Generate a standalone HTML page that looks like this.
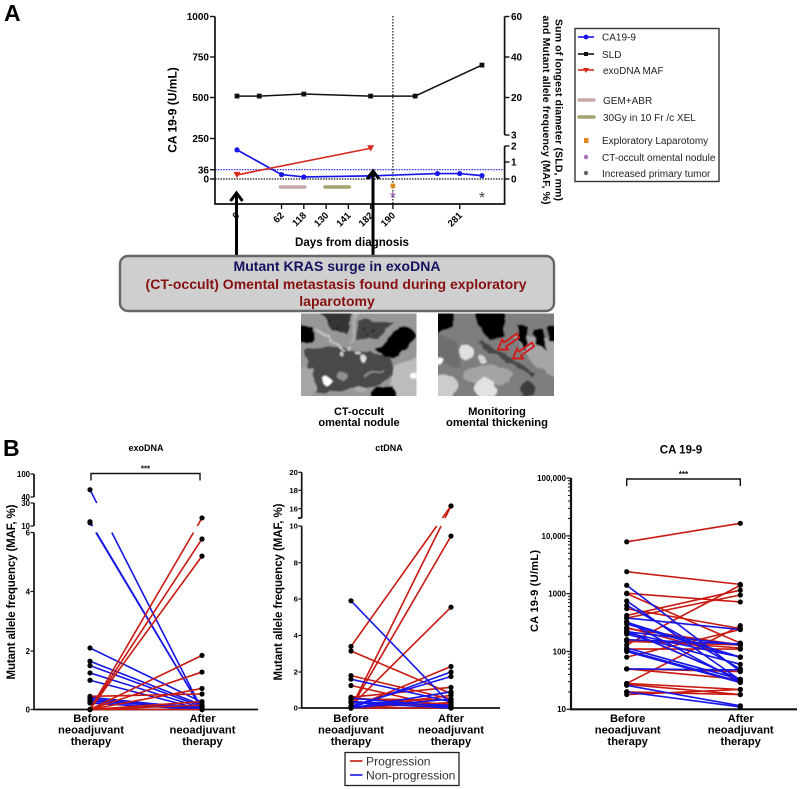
<!DOCTYPE html>
<html lang="en">
<head>
<meta charset="utf-8">
<title>Clinical course and mutant allele frequency chart</title>
<style>
html,body{margin:0;padding:0;background:#fff;width:800px;height:789px;overflow:hidden}
svg{display:block;position:absolute;left:0;top:0;filter:blur(0.3px);font-family:"Liberation Sans",Arial,sans-serif}
text{fill:#000}
.b{font-weight:bold}
.lg{font-size:10px;fill:#222}
</style>
</head>
<body>
<svg id="fig" xmlns="http://www.w3.org/2000/svg" width="800" height="789" viewBox="0 0 800 789">
<defs>
<filter id="soft" x="-5%" y="-5%" width="110%" height="110%">
<feTurbulence type="fractalNoise" baseFrequency="0.09" numOctaves="2" seed="4" result="n"/>
<feDisplacementMap in="SourceGraphic" in2="n" scale="7" xChannelSelector="R" yChannelSelector="G" result="d"/>
<feGaussianBlur in="d" stdDeviation="0.9"/>
</filter>
<clipPath id="clip1"><rect x="0" y="0" width="115.5" height="82.5"/></clipPath>
<clipPath id="clip2"><rect x="0" y="0" width="116" height="82.5"/></clipPath>
</defs>

<text class="b" x="4" y="21" font-size="23">A</text>
<text class="b" x="3" y="456" font-size="23">B</text>

<g id="chartA"></g>

<text class="b" transform="translate(176.5,110) rotate(-90)" text-anchor="middle" font-size="12">CA 19-9 (U/mL)</text>
<text class="b" transform="translate(555.5,110) rotate(90)" text-anchor="middle" font-size="10.5" textLength="182">Sum of longest diameter (SLD, mm)</text>
<text class="b" transform="translate(543,110) rotate(90)" text-anchor="middle" font-size="10.5" textLength="189">and Mutant allele frequency (MAF, %)</text>
<text class="b" x="352" y="246" text-anchor="middle" font-size="11.6">Days from diagnosis</text>

<g>
<rect x="575" y="28.5" width="144" height="153" fill="#fff" stroke="#333" stroke-width="1.4"/>
<g><line x1="578" x2="594" y1="37" y2="37" stroke="#1616e8" stroke-width="1.6"/><circle cx="586" cy="37" r="2.4" fill="#1616e8"/><text class="lg" x="602" y="40.5">CA19-9</text></g>
<g><line x1="578" x2="594" y1="54" y2="54" stroke="#111" stroke-width="1.6"/><rect x="584" y="52" width="4" height="4" fill="#111"/><text class="lg" x="602" y="58">SLD</text></g>
<g><line x1="578" x2="594" y1="70" y2="70" stroke="#d8281c" stroke-width="1.6"/><polygon points="583,68 589,68 586,73" fill="#d8281c"/><text class="lg" x="603" y="74">exoDNA MAF</text></g>
<g><line x1="579" x2="594" y1="100" y2="100" stroke="#c9a8a8" stroke-width="3.5" stroke-linecap="round"/><text class="lg" x="603" y="104">GEM+ABR</text></g>
<g><line x1="579" x2="594" y1="117" y2="117" stroke="#a5a36b" stroke-width="3.5" stroke-linecap="round"/><text class="lg" x="603" y="121">30Gy in 10 Fr /c XEL</text></g>
<g><rect x="584" y="138" width="4.5" height="5" fill="#e08a1e"/><text class="lg" x="602" y="144">Exploratory Laparotomy</text></g>
<g><circle cx="586" cy="157" r="2.2" fill="#a870c0"/><text class="lg" x="602" y="161">CT-occult omental nodule</text></g>
<g><circle cx="586" cy="173" r="2.2" fill="#666"/><text class="lg" x="602" y="177">Increased primary tumor</text></g>
</g>

<g><line x1="236.5" x2="236.5" y1="194" y2="258" stroke="#000" stroke-width="3"/><polyline points="230.5,201 236.5,193 242.5,201" fill="none" stroke="#000" stroke-width="3"/></g>
<g><line x1="373" x2="373" y1="172" y2="258" stroke="#000" stroke-width="3"/><polyline points="367,179 373,171 379,179" fill="none" stroke="#000" stroke-width="3"/></g>

<g>
<rect x="120" y="256" width="434" height="55" rx="8" ry="8" fill="#cfcfcf" stroke="#666" stroke-width="2.4"/>
<text class="b" x="337" y="271" text-anchor="middle" font-size="14" textLength="207" style="fill:#12125f">Mutant KRAS surge in exoDNA</text>
<text class="b" x="336" y="289" text-anchor="middle" font-size="14" textLength="381" style="fill:#870f0f">(CT-occult) Omental metastasis found during exploratory</text>
<text class="b" x="337" y="306" text-anchor="middle" font-size="14" style="fill:#870f0f">laparotomy</text>
</g>

<g transform="translate(301,313.5)" clip-path="url(#clip1)">
<g filter="url(#soft)">
<rect x="-6" y="-6" width="128" height="96" fill="#979797"/>
<polygon points="16,-6 52,-6 46,20 30,17" fill="#343434"/>
<polygon points="57,6 92,9 78,25 55,26" fill="#444"/>
<polygon points="2,36 40,33 90,44 97,60 72,73 15,80 6,55" fill="#4a4a4a"/>
<polygon points="-4,53 12,55 15,78 -4,88" fill="#a6a6a6"/>
<polygon points="95,50 122,45 122,90 85,90" fill="#bcbcbc"/>
<path d="M-4,12 L12,13 L14,24 L10,30 L-4,30 Z" fill="#000"/>
<path d="M75,36 L85,28 L98,12 L110,13 L116,24 L98,42 L85,44 Z" fill="#000"/>
<path d="M68,88 L75,72 L92,72 L99,88 Z" fill="#000"/>
<circle cx="26" cy="68" r="5" fill="#fff"/>
<circle cx="62" cy="45" r="3.5" fill="#ddd"/>
<ellipse cx="42" cy="62" rx="6" ry="5" fill="#909090"/>
<circle cx="41" cy="41" r="2.5" fill="#ccc"/>
<circle cx="57" cy="39" r="2" fill="#ccc"/>
<circle cx="50" cy="35" r="2" fill="#bbb"/>
<ellipse cx="60" cy="76" rx="6" ry="3" fill="#aaa"/>
<line x1="55" y1="-2" x2="50" y2="30" stroke="#b0b0b0" stroke-width="2.5"/>
<line x1="15" y1="15" x2="45" y2="38" stroke="#c0c0c0" stroke-width="2.5"/>
<line x1="62" y1="62" x2="82" y2="58" stroke="#888" stroke-width="2.5"/>
<circle cx="112" cy="62" r="3.5" fill="#fff"/>
<g fill="#111"><circle cx="28" cy="8" r="1.4"/><circle cx="38" cy="14" r="1.4"/><circle cx="64" cy="14" r="1.2"/><circle cx="72" cy="17" r="1.2"/><circle cx="66" cy="21" r="1.2"/></g>
</g>
</g>

<g transform="translate(438,313.5)" clip-path="url(#clip2)">
<g filter="url(#soft)">
<rect x="-6" y="-6" width="128" height="96" fill="#7e7e7e"/>
<polygon points="75,22 122,25 122,68 100,55" fill="#a6a6a6"/>
<polygon points="42,26 98,60 95,64 38,29" fill="#474747"/>
<polygon points="-4,22 18,25 25,55 -4,50" fill="#6e6e6e"/>
<path d="M-4,-4 L16,-4 L15,13 L-4,22 Z" fill="#000"/>
<path d="M37,-4 L67,-4 L67,23 L50,27 L42,13 Z" fill="#000"/>
<path d="M80,11 L90,13 L88,37 L80,27 Z" fill="#000"/>
<path d="M95,15 L107,15 L108,35 L97,30 Z" fill="#000"/>
<path d="M110,12 L120,12 L120,30 L111,28 Z" fill="#000"/>
<ellipse cx="50" cy="62" rx="24" ry="10" fill="#a4a4a4"/>
<circle cx="28" cy="39" r="7.5" fill="#e0e0e0"/>
<circle cx="44" cy="46" r="4.5" fill="#d4d4d4"/>
<circle cx="47" cy="75" r="11" fill="#e2e2e2"/>
<circle cx="7" cy="72" r="12" fill="#cccccc"/>
<circle cx="90" cy="75" r="8" fill="#3c3c3c"/>
<circle cx="0" cy="48" r="3.5" fill="#fff"/>
</g>
<g fill="none" stroke="#d01c1c" stroke-width="1.9">
<polygon points="60,36 64,26 66,29 79,20 81,24 68,33 70,36"/>
<polygon points="75,45 79,35 81,38 94,29 96,33 83,42 85,45"/>
</g>
</g>

<text class="b" text-anchor="middle" font-size="11"><tspan x="359" y="415">CT-occult</tspan><tspan x="359" y="426">omental nodule</tspan></text>
<text class="b" text-anchor="middle" font-size="11.2"><tspan x="497" y="415">Monitoring</tspan><tspan x="497" y="426">omental thickening</tspan></text>

<text class="b" x="146" y="451" text-anchor="middle" font-size="9">exoDNA</text>
<text class="b" x="389" y="451" text-anchor="middle" font-size="9">ctDNA</text>
<text class="b" x="681" y="453.5" text-anchor="middle" font-size="11.5">CA 19-9</text>

<g id="chartExo"></g>
<g id="chartCt"></g>
<g id="chartCa"></g>

<text class="b" transform="translate(15,592) rotate(-90)" text-anchor="middle" font-size="11.5" textLength="175">Mutant allele frequency (MAF, %)</text>
<text class="b" transform="translate(282,592) rotate(-90)" text-anchor="middle" font-size="11.5" textLength="177">Mutant allele frequency (MAF, %)</text>
<text class="b" transform="translate(538,591) rotate(-90)" text-anchor="middle" font-size="11" textLength="82">CA 19-9 (U/mL)</text>

<g>
<rect x="345" y="752.5" width="114" height="33" fill="#fff" stroke="#222" stroke-width="1.3"/>
<g><line x1="350" x2="362.5" y1="761" y2="761" stroke="#c81a10" stroke-width="1.6"/><text x="366" y="765.5" font-size="12.1" style="fill:#333">Progression</text></g>
<g><line x1="350" x2="362.5" y1="775" y2="775" stroke="#1616e8" stroke-width="1.6"/><text x="366" y="779.5" font-size="12.1" style="fill:#333">Non-progression</text></g>
</g>
</svg>

<script>
// ---------- Panel A data ----------
var dayCategories = ['0', '', '62', '118', '130', '141', '182', '190', '', '', '281', ''];
var caTimelineIndex = [0, 2, 3, 6, 9, 10, 11];
var caTimelineValues = [172, 17, 8, 12, 21, 21, 13];
var sldIndex = [0, 1, 3, 6, 8, 11];
var sldValues = [20.7, 20.7, 21.7, 20.7, 20.7, 36];
var mafIndex = [0, 6];
var mafValues = [0.24, 1.86];
var leftTicks = [0, 36, 250, 500, 750, 1000];
var rightTicksLower = [0, 1, 2];
var rightTicksUpper = [3, 20, 40, 60];
var gemAbrSpan = [2, 3];
var radiationSpan = [4, 5];
var laparotomyIndex = 7;
var tumorIndex = 11;

// ---------- Panel B data ----------
var exoTicks = [0, 2, 4, 6, 10, 30, 40, 100];
var exoNonBefore = [59, 13.7, 12.8, 2.1, 1.65, 1.5, 1.25, 1.0, 0.42, 0.36, 0.28, 0.22, 0.3];
var exoNonAfter = [0, 0, 0, 0.25, 0.15, 0.1, 0.05, 0, 0.02, 0, 0.05, 0, 0.1];
var exoProgBefore = [0, 0, 0, 0, 0, 0, 0.45, 0, 0, 0];
var exoProgAfter = [17, 5.78, 5.2, 1.85, 1.28, 0.72, 0.53, 0.27, 0.15, 0];

var ctTicks = [0, 2, 4, 6, 8, 10, 16, 18, 20];
var ctNonBefore = [5.9, 1.6, 0, 0.1, 0, 0, 0.55, 0.35, 0.3];
var ctNonAfter = [0.2, 0.35, 2.0, 1.75, 0.9, 0.5, 0.05, 0.15, 0];
var ctProgBefore = [3.4, 0, 0, 0.1, 3.15, 1.8, 0, 0.6, 0.5, 0.55, 0, 0, 0.3, 0, 1.25];
var ctProgAfter = [16.3, 16.3, 9.45, 5.55, 0.8, 0.5, 2.3, 1.15, 0.45, 0.2, 0.7, 0.3, 0.05, 0, 0];

var caTickLabels = ['10', '100', '1000', '10,000', '100,000'];
var caTickValues = [10, 100, 1000, 10000, 100000];
var caProgBefore = [7900, 2400, 1020, 420, 380, 130, 80, 1000, 550, 28, 50, 250, 150, 160, 110, 28, 27, 18, 20, 50, 230, 260];
var caProgAfter = [16500, 1450, 720, 1150, 950, 1400, 240, 140, 250, 280, 45, 130, 130, 115, 110, 22, 18, 22, 18, 33, 33, 80];
var caNonBefore = [1400, 750, 630, 380, 330, 320, 220, 210, 200, 160, 115, 105, 50, 26, 20, 100, 230, 300];
var caNonAfter = [45, 32, 50, 240, 30, 80, 130, 80, 60, 135, 33, 30, 48, 11.5, 11, 29, 33, 80];

var categoryLines = [['Before', 'neoadjuvant', 'therapy'], ['After', 'neoadjuvant', 'therapy']];

// ---------- helpers ----------
var NS = 'http://www.w3.org/2000/svg';
var RED = '#c81a10', BLUE = '#1616e8', AXIS = '#111';

function mk(parent, tag, attrs, txt) {
  var e = document.createElementNS(NS, tag);
  for (var k in attrs) e.setAttribute(k, attrs[k]);
  if (txt !== undefined) e.textContent = txt;
  parent.appendChild(e);
  return e;
}
function piecewise(dom, rng) {
  return function (v) {
    var i = 0;
    while (i < dom.length - 2 && v > dom[i + 1]) i++;
    return rng[i] + (v - dom[i]) / (dom[i + 1] - dom[i]) * (rng[i + 1] - rng[i]);
  };
}
function pathFrom(xs, ys) {
  return xs.map(function (x, i) { return (i ? 'L' : 'M') + x + ',' + ys[i]; }).join(' ');
}

// ---------- Panel A ----------
(function () {
  var g = document.getElementById('chartA');
  var xA = function (i) { return 237 + 22.27 * i; };
  var yL = piecewise([0, 36, 250, 500, 750, 1000], [179, 169.7, 138.5, 97.5, 57, 16.5]);
  var yR = piecewise([0, 1, 2, 3, 20, 40, 60], [179, 162, 146, 135, 97.5, 57, 16.5]);
  var el;

  el = mk(g, 'line', {x1: xA(7), x2: xA(7), y1: 16, y2: 204, stroke: '#111', 'stroke-width': 1.2, 'stroke-dasharray': '1.5 1.5'});
  
  
  el = mk(g, 'line', {x1: 215, x2: 504.6, y1: yL(36), y2: yL(36), stroke: BLUE, 'stroke-width': 1.2, 'stroke-dasharray': '1.5 1.2'});
  
  
  el = mk(g, 'line', {x1: 215, x2: 504.6, y1: yL(0), y2: yL(0), stroke: '#111', 'stroke-width': 1.2, 'stroke-dasharray': '1.5 1.2'});
  
  

  el = mk(g, 'path', {d: 'M215,16.5 V204 H504.6 V146 M504.6,135 V16.5', fill: 'none', stroke: AXIS, 'stroke-width': 1.7});
  
  

  leftTicks.forEach(function (t) {
    var y = yL(t);
    var tick = mk(g, 'line', {x1: 210, x2: 215, y1: y, y2: y, stroke: AXIS, 'stroke-width': 1.4});
    
    
    var lab = mk(g, 'text', {x: 209, y: y + 3.6, 'text-anchor': 'end', 'font-size': 10, 'font-weight': 'bold'}, String(t));
    
    
  });
  rightTicksLower.concat(rightTicksUpper).forEach(function (t) {
    var y = yR(t);
    var tick = mk(g, 'line', {x1: 504.6, x2: 509.5, y1: y, y2: y, stroke: AXIS, 'stroke-width': 1.4});
    
    
    var lab = mk(g, 'text', {x: 511, y: y + 3.6, 'font-size': 10, 'font-weight': 'bold'}, String(t));
    
    
  });
  dayCategories.forEach(function (c, i) {
    if (!c) return;
    var x = xA(i);
    var tick = mk(g, 'line', {x1: x, x2: x, y1: 204, y2: 209, stroke: AXIS, 'stroke-width': 1.4});
    
    
    var lab = mk(g, 'text', {'text-anchor': 'end', 'font-size': 9.5, 'font-weight': 'bold', transform: 'translate(' + (x + 3) + ',216) rotate(-45)'}, c);
    
    
  });

  el = mk(g, 'path', {d: pathFrom(sldIndex.map(xA), sldValues.map(yR)), fill: 'none', stroke: '#111', 'stroke-width': 1.5});
  
  
  sldIndex.forEach(function (idx, i) {
    var p = mk(g, 'rect', {x: xA(idx) - 2.4, y: yR(sldValues[i]) - 2.4, width: 4.8, height: 4.8, fill: '#111'});
    
    
  });

  el = mk(g, 'path', {d: pathFrom(caTimelineIndex.map(xA), caTimelineValues.map(yL)), fill: 'none', stroke: BLUE, 'stroke-width': 1.7});
  
  
  caTimelineIndex.forEach(function (idx, i) {
    var p = mk(g, 'circle', {cx: xA(idx), cy: yL(caTimelineValues[i]), r: 2.6, fill: BLUE});
    
    
  });

  el = mk(g, 'path', {d: pathFrom(mafIndex.map(xA), mafValues.map(yR)), fill: 'none', stroke: '#d8281c', 'stroke-width': 1.6});
  
  
  mafIndex.forEach(function (idx, i) {
    var x = xA(idx), y = yR(mafValues[i]);
    var p = mk(g, 'polygon', {points: (x - 3.5) + ',' + (y - 3) + ' ' + (x + 3.5) + ',' + (y - 3) + ' ' + x + ',' + (y + 3.2), fill: '#d8281c'});
    
    
  });

  el = mk(g, 'line', {x1: xA(gemAbrSpan[0]) - 1, x2: xA(gemAbrSpan[1]) + 1, y1: 187, y2: 187, stroke: '#c9a8a8', 'stroke-width': 3.6, 'stroke-linecap': 'round'});
  
  
  el = mk(g, 'line', {x1: xA(radiationSpan[0]) - 1, x2: xA(radiationSpan[1]) + 1, y1: 187, y2: 187, stroke: '#a5a36b', 'stroke-width': 3.6, 'stroke-linecap': 'round'});
  
  
  el = mk(g, 'rect', {x: xA(laparotomyIndex) - 2.3, y: 183.5, width: 4.6, height: 4.6, fill: '#e08a1e'});
  
  
  el = mk(g, 'text', {x: xA(laparotomyIndex), y: 203, 'text-anchor': 'middle', 'font-size': 16, style: 'fill:#9b59b6'}, '*');
  
  
  el = mk(g, 'text', {x: xA(tumorIndex), y: 203, 'text-anchor': 'middle', 'font-size': 16, style: 'fill:#444'}, '*');
  
  
})();

// ---------- Panel B shared ----------
function drawPairs(g, before, after, x1, x2, yFn, gapFn, color, name) {
  before.forEach(function (b, i) {
    var y1 = yFn(b), y2 = yFn(after[i]);
    var gap = gapFn ? gapFn(Math.max(b, after[i])) : null;
    var top = Math.min(y1, y2), bot = Math.max(y1, y2);
    var d;
    if (gap && top < gap[0] && bot > gap[1]) {
      var xAt = function (y) { return x1 + (y - y1) / (y2 - y1) * (x2 - x1); };
      d = 'M' + x1 + ',' + y1 + ' L' + xAt(y1 < y2 ? gap[0] : gap[1]) + ',' + (y1 < y2 ? gap[0] : gap[1]) +
          ' M' + xAt(y1 < y2 ? gap[1] : gap[0]) + ',' + (y1 < y2 ? gap[1] : gap[0]) + ' L' + x2 + ',' + y2;
    } else {
      d = 'M' + x1 + ',' + y1 + ' L' + x2 + ',' + y2;
    }
    var p = mk(g, 'path', {d: d, fill: 'none', stroke: color, 'stroke-width': 1.6});
    
    
  });
}
function drawDots(g, values, x, yFn, name) {
  values.forEach(function (v) {
    var c = mk(g, 'circle', {cx: x, cy: yFn(v), r: 2.6, fill: '#000'});
    
    
  });
}
function drawCategories(g, cx1, cx2) {
  [cx1, cx2].forEach(function (cx, c) {
    categoryLines[c].forEach(function (txt, i) {
      var t = mk(g, 'text', {x: cx, y: 722 + i * 11.5, 'text-anchor': 'middle', 'font-size': 11.2, 'font-weight': 'bold'}, txt);
      
      
    });
  });
}
function drawBracket(g, x1, x2, y) {
  var b = mk(g, 'path', {d: 'M' + x1 + ',' + (y + 7) + ' V' + y + ' H' + x2 + ' V' + (y + 7), fill: 'none', stroke: '#111', 'stroke-width': 1.4});
  
  
  var s = mk(g, 'text', {x: (x1 + x2) / 2, y: y - 2, 'text-anchor': 'middle', 'font-size': 8, 'font-weight': 'bold'}, '***');
  
  
}
function yTicks(g, ticks, labels, yFn, axisX, fontSize, len) {
  ticks.forEach(function (t, i) {
    var y = yFn(t);
    var tick = mk(g, 'line', {x1: axisX - len, x2: axisX, y1: y, y2: y, stroke: AXIS, 'stroke-width': 1.2});
    
    
    var lab = mk(g, 'text', {x: axisX - len - 0.5, y: y + fontSize * 0.36, 'text-anchor': 'end', 'font-size': fontSize, 'font-weight': 'bold'}, labels ? labels[i] : String(t));
    
    
  });
}

// ---------- exoDNA ----------
(function () {
  var g = document.getElementById('chartExo');
  var y = piecewise([0, 2, 4, 6, 10, 30, 40, 100], [709.5, 651, 591.5, 532.5, 526, 503, 497, 474]);
  var gap = function (maxV) { return maxV >= 40 ? [y(30), y(6)] : [y(10), y(6)]; };
  var x1 = 90, x2 = 202, el;
  el = mk(g, 'path', {d: 'M34,474 V497 M34,503 V526 M34,532.5 V709.5 H258', fill: 'none', stroke: AXIS, 'stroke-width': 1.7});
  
  
  yTicks(g, exoTicks, null, y, 34, 7.8, 3.5);
  drawPairs(g, exoNonBefore, exoNonAfter, x1, x2, y, gap, BLUE, 'exodna-non-progression-line');
  drawPairs(g, exoProgBefore, exoProgAfter, x1, x2, y, gap, RED, 'exodna-progression-line');
  drawDots(g, exoNonBefore.concat(exoProgBefore), x1, y, 'exodna-before-point');
  drawDots(g, exoNonAfter.concat(exoProgAfter), x2, y, 'exodna-after-point');
  drawBracket(g, 91, 200, 473.5);
  drawCategories(g, 91, 202.5);
})();

// ---------- ctDNA ----------
(function () {
  var g = document.getElementById('chartCt');
  var y = piecewise([0, 2, 4, 6, 8, 10, 15, 16, 18, 20], [708, 672, 635.5, 599, 562.7, 526, 518, 508.7, 490.3, 472.3]);
  var gap = function () { return [y(15), y(10)]; };
  var x1 = 351, x2 = 451, el;
  el = mk(g, 'path', {d: 'M301.7,472.3 V518 M298,518 H301.7 M301.7,526 V708 H500', fill: 'none', stroke: AXIS, 'stroke-width': 1.7});
  
  
  yTicks(g, ctTicks, null, y, 301.7, 7.6, 3.4);
  drawPairs(g, ctProgBefore, ctProgAfter, x1, x2, y, gap, RED, 'ctdna-progression-line');
  drawPairs(g, ctNonBefore, ctNonAfter, x1, x2, y, gap, BLUE, 'ctdna-non-progression-line');
  drawDots(g, ctNonBefore.concat(ctProgBefore), x1, y, 'ctdna-before-point');
  drawDots(g, ctNonAfter.concat(ctProgAfter), x2, y, 'ctdna-after-point');
  drawCategories(g, 351, 451);
})();

// ---------- CA 19-9 ----------
(function () {
  var g = document.getElementById('chartCa');
  var y = function (v) { return 709.3 - (Math.log10(v) - 1) * 57.8; };
  var x1 = 626.7, x2 = 740.3, el;
  el = mk(g, 'path', {d: 'M571,478 V709.3 H797', fill: 'none', stroke: AXIS, 'stroke-width': 2.2});
  
  
  caTickValues.slice(0, -1).forEach(function (d) {
    for (var m = 2; m < 10; m++) {
      var yy = y(d * m);
      var t = mk(g, 'line', {x1: 568, x2: 571, y1: yy, y2: yy, stroke: AXIS, 'stroke-width': 1});
      
      
    }
  });
  yTicks(g, caTickValues, caTickLabels, y, 571, 8, 4.5);
  drawPairs(g, caProgBefore, caProgAfter, x1, x2, y, null, RED, 'ca19-9-progression-line');
  drawPairs(g, caNonBefore, caNonAfter, x1, x2, y, null, BLUE, 'ca19-9-non-progression-line');
  drawDots(g, caNonBefore.concat(caProgBefore), x1, y, 'ca19-9-before-point');
  drawDots(g, caNonAfter.concat(caProgAfter), x2, y, 'ca19-9-after-point');
  drawBracket(g, x1, x2, 479);
  drawCategories(g, 627.7, 740.7);
})();
</script>
</body>
</html>
